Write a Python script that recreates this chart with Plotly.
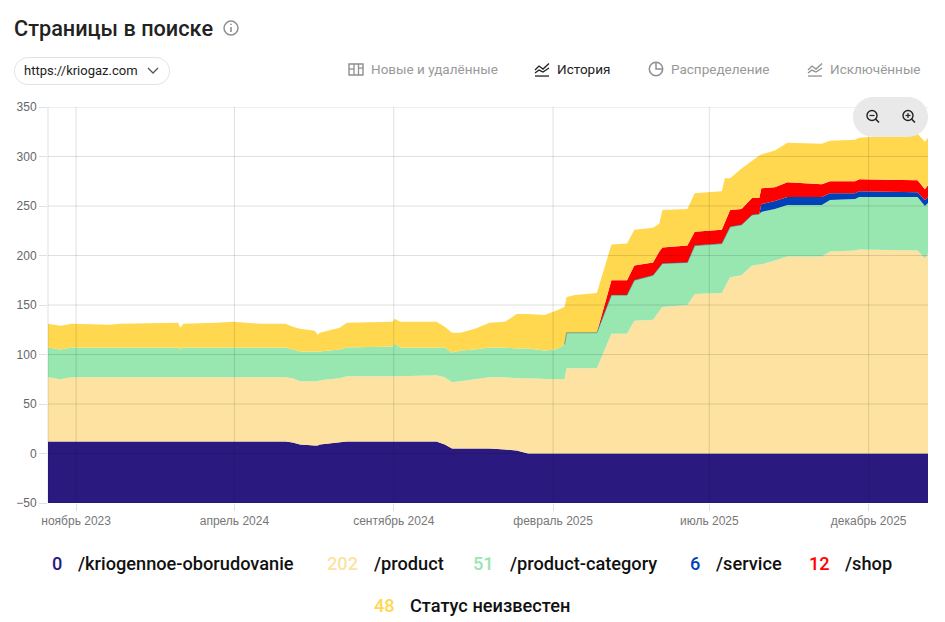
import plotly.graph_objects as go

###
#   Data
###
dates = [
    "2023-10-05", "2023-10-17", "2023-10-28", "2023-12-04", "2023-12-13", "2024-02-07", "2024-02-09", "2024-02-12",
    "2024-03-14", "2024-03-31", "2024-04-26", "2024-05-20", "2024-05-27", "2024-06-03", "2024-06-17", "2024-06-20",
    "2024-06-22", "2024-07-11", "2024-07-18", "2024-08-31", "2024-09-02", "2024-09-07", "2024-10-12", "2024-10-20",
    "2024-10-27", "2024-11-04", "2024-11-18", "2024-12-02", "2024-12-17", "2024-12-28", "2025-01-08", "2025-01-24",
    "2025-02-03", "2025-02-12", "2025-02-14", "2025-02-22", "2025-03-15", "2025-03-29", "2025-04-13", "2025-04-20",
    "2025-05-08", "2025-05-14", "2025-05-17", "2025-06-10", "2025-06-17", "2025-07-13", "2025-07-16", "2025-07-21",
    "2025-08-01", "2025-08-11", "2025-08-18", "2025-08-20", "2025-09-02", "2025-09-14", "2025-10-17", "2025-10-25",
    "2025-11-18", "2025-11-22", "2026-01-17", "2026-01-24", "2026-01-27",
]
oborudovanie = [
    12, 12, 12, 12, 12, 12, 12, 12, 12, 12, 12, 12, 11, 9, 8, 8, 9, 11, 12, 12,
    12, 12, 12, 9, 5, 5, 5, 5, 4, 3, 0, 0, 0, 0, 0, 0, 0, 0, 0, 0,
    0, 0, 0, 0, 0, 0, 0, 0, 0, 0, 0, 0, 0, 0, 0, 0, 0, 0, 0, 0, 0,
]
product = [
    65, 63, 65, 65, 65, 65, 65, 65, 65, 65, 65, 65, 65, 64, 65, 65, 65, 65, 66, 66,
    66, 66, 67, 68, 67, 68, 70, 72, 73, 73, 76, 75, 75, 75, 86, 86, 86, 121, 121, 134,
    135, 144, 148, 150, 161, 162, 168, 178, 180, 190, 191, 191, 195, 199, 199, 204, 205, 206, 205, 197, 202,
]
product_category = [
    30, 30, 30, 30, 30, 30, 28, 30, 30, 30, 30, 30, 29, 30, 30, 30, 29, 29, 29, 30,
    33, 29, 28, 30, 30, 31, 30, 30, 30, 30, 30, 29, 30, 35, 36, 36, 36, 39, 39, 41,
    45, 44, 44, 43, 49, 50, 50, 51, 51, 51, 51, 53, 52, 52, 52, 52, 52, 53, 54, 53, 51,
]
service = [
    0, 0, 0, 0, 0, 0, 0, 0, 0, 0, 0, 0, 0, 0, 0, 0, 0, 0, 0, 0,
    0, 0, 0, 0, 0, 0, 0, 0, 0, 0, 0, 0, 0, 0, 0, 0, 0, 0, 0, 0,
    0, 0, 0, 0, 0, 0, 0, 0, 0, 0, 0, 8, 8, 8, 8, 7, 6, 6, 5, 6, 6,
]
shop = [
    0, 0, 0, 0, 0, 0, 0, 0, 0, 0, 0, 0, 0, 0, 0, 0, 0, 0, 0, 0,
    0, 0, 0, 0, 0, 0, 0, 0, 0, 0, 0, 0, 0, 0, 0, 0, 0, 15, 15, 15,
    13, 16, 16, 17, 14, 14, 16, 17, 16, 17, 16, 16, 14, 15, 13, 12, 12, 12, 12, 11, 12,
]
unknown = [
    24, 24, 24, 23, 24, 25, 22, 24, 25, 26, 24, 24, 23, 23, 21, 17, 19, 22, 25, 25,
    25, 26, 26, 21, 20, 18, 21, 25, 26, 35, 35, 36, 39, 38, 36, 38, 40, 36, 37, 36,
    35, 28, 38, 37, 39, 39, 44, 32, 41, 38, 43, 34, 37, 40, 41, 41, 42, 42, 47, 48, 48,
]

series_names = ["/kriogennoe-oborudovanie", "/product", "/product-category", "/service", "/shop", "Статус неизвестен"]
series_values = [oborudovanie, product, product_category, service, shop, unknown]
series_colors = ["#2a1a80", "#fee2a2", "#98e6b0", "#0043b8", "#ff0000", "#ffd84f"]
legend_counts = ["0", "202", "51", "6", "12", "48"]

y_ticks = [-50, 0, 50, 100, 150, 200, 250, 300, 350]
x_ticks = ["2023-11-01", "2024-04-01", "2024-09-01", "2025-02-01", "2025-07-01", "2025-12-01"]
x_labels = ["ноябрь 2023", "апрель 2024", "сентябрь 2024", "февраль 2025", "июль 2025", "декабрь 2025"]

# page layout, in pixels of the 945x622 window
plot_left, plot_right, plot_top, plot_bottom = 48, 928, 107, 503.5
ui_font = "Roboto"
axis_font = "Liberation Sans"


def px(x):
    return (x - plot_left) / (plot_right - plot_left)


def py(y):
    return (plot_bottom - y) / (plot_bottom - plot_top)


def poly(points, closed=False):
    path = "M " + " L ".join(f"{px(x)} {py(y)}" for x, y in points)
    return path + " Z" if closed else path


def line_shape(points, color, width=1.3):
    return dict(type="path", xref="paper", yref="paper", path=poly(points), line=dict(color=color, width=width), layer="above")


def circle_shape(cx, cy, r, color, width=1.3):
    return dict(type="circle", xref="paper", yref="paper", x0=px(cx - r), x1=px(cx + r), y0=py(cy + r), y1=py(cy - r),
                line=dict(color=color, width=width), layer="above")


def pill_path(x0, y0, x1, y1):
    r = (y1 - y0) / 2
    return (f"M {px(x0 + r)} {py(y0)} L {px(x1 - r)} {py(y0)} "
            f"C {px(x1 - r * 0.45)} {py(y0)} {px(x1)} {py(y0 + r * 0.45)} {px(x1)} {py(y0 + r)} "
            f"C {px(x1)} {py(y1 - r * 0.45)} {px(x1 - r * 0.45)} {py(y1)} {px(x1 - r)} {py(y1)} "
            f"L {px(x0 + r)} {py(y1)} "
            f"C {px(x0 + r * 0.45)} {py(y1)} {px(x0)} {py(y1 - r * 0.45)} {px(x0)} {py(y0 + r)} "
            f"C {px(x0)} {py(y0 + r * 0.45)} {px(x0 + r * 0.45)} {py(y0)} {px(x0 + r)} {py(y0)} Z")


def label(text, x, y, size, color, weight=400, family=ui_font, anchor="left"):
    return dict(text=text, xref="paper", yref="paper", x=px(x), y=py(y), xanchor=anchor, yanchor="middle",
                showarrow=False, borderpad=0, font=dict(family=family, size=size, color=color, weight=weight))


fig = go.Figure()

# the chart fills its lowest band down to the bottom of the axis
floor = [y_ticks[0]] * len(dates)
fig.add_trace(go.Scatter(x=dates, y=floor, mode="lines", line=dict(width=0), showlegend=False, hoverinfo="skip"))
top = [0] * len(dates)
tops = []
for name, values, color in zip(series_names, series_values, series_colors):
    top = [a + b for a, b in zip(top, values)]
    tops.append(top)
    fig.add_trace(go.Scatter(x=dates, y=top, mode="lines", name=name, fill="tonexty", fillcolor=color,
                             line=dict(width=0), showlegend=False))

# thin grey-blue edge along the top of the green band
edge = [t if "2025-02-12" <= d <= "2025-08-18" else None for d, t in zip(dates, tops[2])]
fig.add_trace(go.Scatter(x=dates, y=edge, mode="lines", line=dict(color="rgba(50,100,130,0.55)", width=1),
                         showlegend=False, hoverinfo="skip"))

shapes = []
# grid lies over the fills, as a translucent line
grid = "rgba(0,0,0,0.12)"
for v in y_ticks:
    shapes.append(dict(type="line", xref="paper", yref="y", x0=0, x1=1, y0=v, y1=v, line=dict(color=grid, width=1), layer="above"))
for d in x_ticks:
    shapes.append(dict(type="line", xref="x", yref="paper", x0=d, x1=d, y0=0, y1=1, line=dict(color=grid, width=1), layer="above"))
shapes.append(dict(type="line", xref="paper", yref="paper", x0=0, x1=0, y0=0, y1=1, line=dict(color=grid, width=1), layer="above"))

# zoom buttons
shapes.append(dict(type="path", xref="paper", yref="paper", path=pill_path(853, 97, 928, 137), fillcolor="#e9e9e9",
                   line=dict(width=0), layer="above"))
for cx, plus in [(872, False), (908, True)]:
    shapes.append(circle_shape(cx, 115.5, 5, "#222222", 1.4))
    shapes.append(line_shape([(cx + 3.5, 119), (cx + 7, 122.5)], "#222222", 1.6))
    shapes.append(line_shape([(cx - 2.5, 115.5), (cx + 2.5, 115.5)], "#222222", 1.2))
    if plus:
        shapes.append(line_shape([(cx, 113), (cx, 118)], "#222222", 1.2))

# info icon near the title
shapes.append(circle_shape(231, 28, 7, "#8f8f8f", 1.5))
shapes.append(line_shape([(231, 27), (231, 32)], "#8f8f8f", 1.6))
shapes.append(line_shape([(231, 23.6), (231, 25)], "#8f8f8f", 1.6))

# site selector
shapes.append(dict(type="path", xref="paper", yref="paper", path=pill_path(14.5, 57.5, 169.5, 84.5), fillcolor="#ffffff",
                   line=dict(color="#e2e2e2", width=1), layer="above"))
shapes.append(line_shape([(148, 68), (153, 73), (158, 68)], "#555555", 1.3))

# tab icons
tab_grey = "#8f8f8f"
shapes.append(dict(type="rect", xref="paper", yref="paper", x0=px(349), x1=px(363), y0=py(75), y1=py(64),
                   line=dict(color=tab_grey, width=1.4), layer="above"))
shapes.append(line_shape([(354, 64), (354, 75)], tab_grey))
shapes.append(line_shape([(358.5, 64), (358.5, 75)], tab_grey))
shapes.append(line_shape([(349, 69), (354, 69)], tab_grey))
shapes.append(line_shape([(358.5, 68), (363, 68)], tab_grey))
for x0, color in [(535, "#222222"), (808, tab_grey)]:
    shapes.append(line_shape([(x0, 70), (x0 + 4, 66), (x0 + 8, 69), (x0 + 14, 63.5)], color))
    shapes.append(line_shape([(x0, 73), (x0 + 4, 70), (x0 + 8, 72), (x0 + 14, 68)], color))
    shapes.append(line_shape([(x0, 76), (x0 + 14, 76)], color))
shapes.append(circle_shape(656, 69, 6.7, tab_grey, 1.5))
shapes.append(line_shape([(656, 62.5), (656, 69), (662.5, 69)], tab_grey, 1.5))

texts = [
    label("Страницы в поиске", 13.2, 28, 21.7, "#222222", weight=500),
    label("https://kriogaz.com", 23, 70.5, 13, "#222222"),
    label("Новые и удалённые", 369.5, 69, 13.5, "#999999"),
    label("История", 555.5, 69, 13.5, "#222222"),
    label("Распределение", 669.5, 69, 13.5, "#999999"),
    label("Исключённые", 828.5, 69, 13.5, "#999999"),
]

# legend, drawn as text rows under the chart
legend_rows = [
    (564, 50.5, 77), (564, 326, 372.5), (564, 472, 508.5), (564, 689, 714.5), (564, 808, 843.5), (606, 373, 408.5),
]
for (y, count_x, name_x), count, name, color in zip(legend_rows, legend_counts, series_names, series_colors):
    texts.append(label(count, count_x, y, 18.2, color, weight=500))
    texts.append(label(name, name_x, y, 18.2, "#111111", weight=500))

fig.update_layout(
    width=945,
    height=622,
    margin=dict(l=plot_left, r=945 - plot_right, t=plot_top, b=622 - plot_bottom),
    paper_bgcolor="white",
    plot_bgcolor="white",
    showlegend=False,
    shapes=shapes,
    annotations=texts,
    xaxis=dict(
        type="date", range=[dates[0], dates[-1]], tickmode="array", tickvals=x_ticks, ticktext=x_labels,
        showgrid=False, zeroline=False, showline=False, ticks="outside", ticklen=7, tickcolor="#e0e0e0",
        tickfont=dict(family=axis_font, size=12, color="#777777"),
    ),
    yaxis=dict(
        range=[y_ticks[0], y_ticks[-1]], tickmode="array", tickvals=y_ticks,
        showgrid=False, zeroline=False, showline=False, ticks="outside", ticklen=8, tickcolor="#e0e0e0",
        tickfont=dict(family=axis_font, size=12, color="#666666"),
    ),
)

fig.write_html("out.html", config=dict(displayModeBar=False), post_script="document.body.style.margin='0';")
